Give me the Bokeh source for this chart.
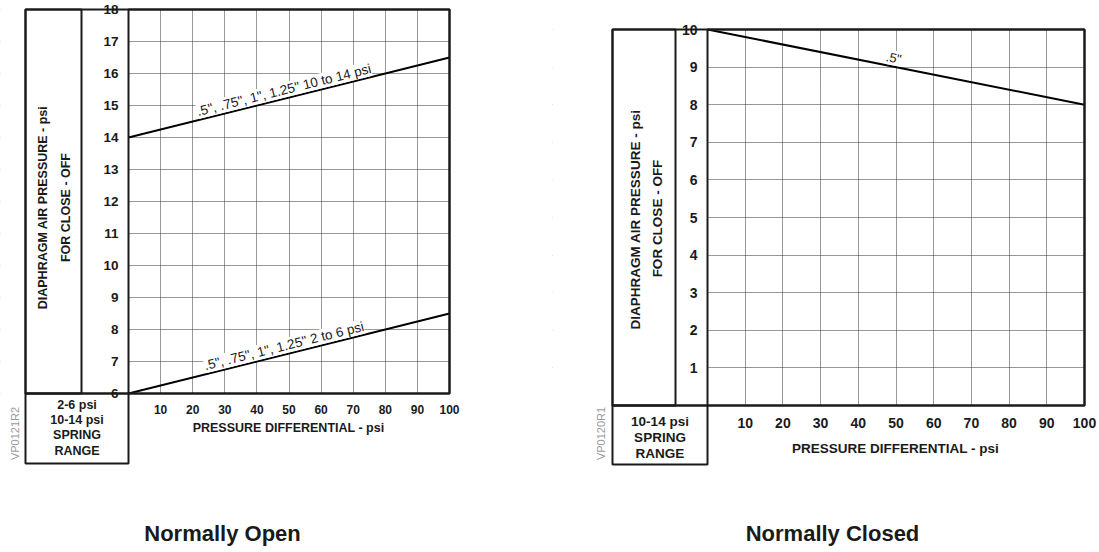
import math
from bokeh.plotting import figure
from bokeh.models import Label, BoxAnnotation, FixedTicker, Range1d
from bokeh.layouts import row
from bokeh.embed import file_html
from bokeh.resources import INLINE

# ---------------- data ----------------
pressure_differential = [0, 100]          # psi
no_spring_10_14 = [14.0, 16.5]            # Normally Open, 10-14 psi spring
no_spring_2_6 = [6.0, 8.5]                # Normally Open, 2-6 psi spring
nc_spring_10_14 = [10.0, 8.0]             # Normally Closed, 10-14 psi spring

x_ticks = [10, 20, 30, 40, 50, 60, 70, 80, 90, 100]
no_y_ticks = [6, 7, 8, 9, 10, 11, 12, 13, 14, 15, 16, 17, 18]
nc_y_ticks = [1, 2, 3, 4, 5, 6, 7, 8, 9, 10]

no_line_labels = ['.5", .75", 1", 1.25" 10 to 14 psi', '.5", .75", 1", 1.25" 2 to 6 psi']
nc_line_labels = ['.5"']

y_title = ["DIAPHRAGM AIR PRESSURE - psi", "FOR CLOSE - OFF"]
x_title = "PRESSURE DIFFERENTIAL - psi"
no_spring_text = ["2-6 psi", "10-14 psi", "SPRING", "RANGE"]
nc_spring_text = ["10-14 psi", "SPRING", "RANGE"]

FONT = "Liberation Sans"
INK = "#1a1a1a"


class Panel:
    """One chart panel. The frame covers the whole canvas; the data area
    (x 0..100, y y0..y1) sits at page pixels `plot` inside it."""

    def __init__(self, origin, size, plot, y_lim, y_ticks, fs_y, fs_x):
        self.origin = origin
        ox, oy = origin
        W, H = size
        pl, pt, pr, pb = plot
        self.plot = plot
        self.y_lim = y_lim
        y0, y1 = y_lim
        self.sx = (pr - pl) / 100.0
        self.sy = (pb - pt) / (y1 - y0)
        x_range = Range1d(self.dx(ox), self.dx(ox + W))
        y_range = Range1d(self.dy(oy + H), self.dy(oy))
        p = figure(
            title=None, output_backend="svg", toolbar_location=None,
            x_range=x_range, y_range=y_range,
            frame_width=W, frame_height=H,
            min_border_left=0, min_border_top=0, min_border_right=0, min_border_bottom=0,
            background_fill_color="white", border_fill_color="white",
        )
        p.outline_line_color = None
        p.xaxis.ticker = FixedTicker(ticks=x_ticks, minor_ticks=[])
        p.yaxis.ticker = FixedTicker(ticks=y_ticks, minor_ticks=[])
        p.xaxis.fixed_location = y0
        p.yaxis.fixed_location = 0
        for ax, fs in ((p.xaxis, fs_x), (p.yaxis, fs_y)):
            ax.axis_line_color = None
            ax.major_tick_line_color = None
            ax.minor_tick_line_color = None
            ax.major_label_text_font = FONT
            ax.major_label_text_font_style = "bold"
            ax.major_label_text_font_size = fs
            ax.major_label_text_color = INK
        p.xaxis.major_label_standoff = 5
        p.yaxis.major_label_standoff = 4
        for g in (p.xgrid, p.ygrid):
            g.grid_line_color = "#333333"
            g.grid_line_dash = "1 1"
            g.grid_line_width = 1
            g.grid_line_alpha = 1.0
        # keep the grid only inside the data area (white covers reach past the canvas)
        xl, xr = self.dx(ox - 40), self.dx(ox + W + 40)
        yb, yt = self.dy(oy + H + 40), self.dy(oy - 40)
        covers = (
            dict(left=xl, right=0, bottom=yb, top=yt),
            dict(left=100, right=xr, bottom=yb, top=yt),
            dict(left=xl, right=xr, bottom=yb, top=y0),
            dict(left=xl, right=xr, bottom=y1, top=yt),
        )
        for kw in covers:
            p.add_layout(BoxAnnotation(fill_color="white", fill_alpha=1.0,
                                       line_alpha=0, level="underlay", **kw))
        self.p = p

    def dx(self, px):
        return (px - self.plot[0]) / self.sx

    def dy(self, py):
        return self.y_lim[1] - (py - self.plot[1]) / self.sy

    def rect(self, l, t, r, b):
        self.p.add_layout(BoxAnnotation(
            left=self.dx(l), right=self.dx(r), top=self.dy(t), bottom=self.dy(b),
            fill_alpha=0, line_color=INK, line_alpha=1.0, line_width=2, level="overlay",
        ))

    def text(self, x, y, text, size, style="bold", angle=0.0, color=INK):
        ox, oy = self.origin
        self.p.add_layout(Label(
            x=x - ox, y=y - oy, x_units="canvas", y_units="canvas", text=text,
            text_font=FONT, text_font_size=size, text_font_style=style,
            text_color=color, text_align="center", text_baseline="middle", angle=angle,
        ))

    def line_label(self, xs, ys, at_x, text, size):
        slope = (ys[1] - ys[0]) / (xs[1] - xs[0])
        ang = math.atan(slope * self.sy / self.sx)
        y_at = ys[0] + slope * (at_x - xs[0])
        self.p.add_layout(Label(
            x=at_x, y=y_at, text=text, angle=ang,
            text_font=FONT, text_font_size=size, text_color=INK,
            text_align="center", text_baseline="bottom", y_offset=1,
            background_fill_color="white", background_fill_alpha=1.0,
        ))


H = 548
# ---------------- Normally Open ----------------
P1 = Panel(origin=(0, 0), size=(552, H), plot=(128, 9, 449, 393),
           y_lim=(6, 18), y_ticks=no_y_ticks, fs_y="13.5px", fs_x="12px")
p1 = P1.p
p1.line(pressure_differential, no_spring_10_14, line_width=2, line_color="black")
p1.line(pressure_differential, no_spring_2_6, line_width=2, line_color="black")
P1.line_label(pressure_differential, no_spring_10_14, 49, no_line_labels[0], "13.5px")
P1.line_label(pressure_differential, no_spring_2_6, 49, no_line_labels[1], "13.5px")

P1.rect(128, 9, 449, 393)
P1.rect(25, 9, 449, 393)
P1.rect(25, 9, 81, 393)
P1.rect(25, 393, 128, 463)
P1.text(42, 207, y_title[0], "12.5px", angle=math.pi / 2)
P1.text(65, 207, y_title[1], "12.5px", angle=math.pi / 2)
for i, t in enumerate(no_spring_text):
    P1.text(76.5, 404 + i * 15.4, t, "12.5px")
P1.text(288, 427, x_title, "12.5px")
P1.text(14, 433, "VP0121R2", "11px", style="normal", angle=math.pi / 2, color="#9a9a9a")
P1.text(222, 533, "Normally Open", "22px")

# ---------------- Normally Closed ----------------
P2 = Panel(origin=(552, 0), size=(546, H), plot=(707, 29, 1084, 405),
           y_lim=(0, 10), y_ticks=nc_y_ticks, fs_y="14px", fs_x="14px")
p2 = P2.p
p2.xaxis.major_label_standoff = 6
p2.line(pressure_differential, nc_spring_10_14, line_width=2, line_color="black")
P2.line_label(pressure_differential, nc_spring_10_14, 49, nc_line_labels[0], "13px")

P2.rect(707, 29, 1084, 405)
P2.rect(612, 29, 1084, 405)
P2.rect(612, 29, 675, 405)
P2.rect(612, 405, 707, 464)
P2.text(635, 219, y_title[0], "13.5px", angle=math.pi / 2)
P2.text(657, 218, y_title[1], "13.5px", angle=math.pi / 2)
for i, t in enumerate(nc_spring_text):
    P2.text(659.5, 421 + i * 16, t, "13.5px")
P2.text(895, 448, x_title, "13.5px")
P2.text(600, 433, "VP0120R1", "11px", style="normal", angle=math.pi / 2, color="#9a9a9a")
P2.text(832, 533, "Normally Closed", "22px")

layout = row(p1, p2, spacing=0)
open("out.html", "w").write(file_html(layout, INLINE))
